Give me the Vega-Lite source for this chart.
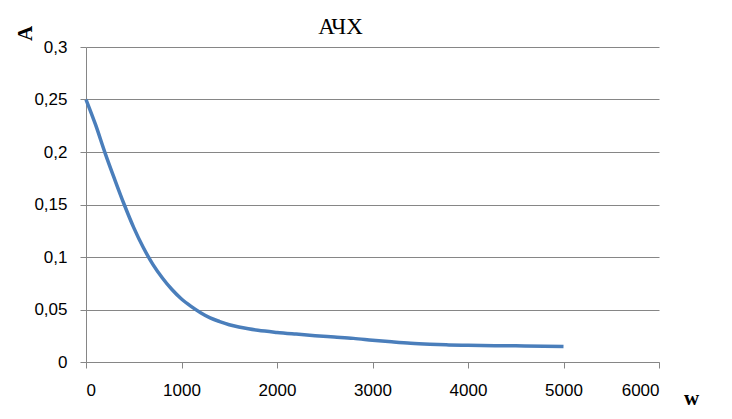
{
  "$schema": "https://vega.github.io/schema/vega-lite/v6.json",
  "width": 573,
  "height": 315,
  "autosize": "none",
  "padding": {"left": 86, "top": 47, "right": 73, "bottom": 57},
  "background": "white",
  "title": {"text": "АЧХ", "font": "Liberation Serif", "fontSize": 23, "fontWeight": "normal", "color": "black", "anchor": "middle", "frame": "group", "dx": -32, "dy": 23, "offset": 9},
  "config": {"view": {"stroke": null}},
  "data": {"values": [
    {"w": 0, "A": 0.25},
    {"w": 100, "A": 0.226},
    {"w": 200, "A": 0.199},
    {"w": 300, "A": 0.174},
    {"w": 400, "A": 0.150},
    {"w": 500, "A": 0.128},
    {"w": 600, "A": 0.109},
    {"w": 700, "A": 0.093},
    {"w": 800, "A": 0.080},
    {"w": 900, "A": 0.069},
    {"w": 1000, "A": 0.060},
    {"w": 1100, "A": 0.053},
    {"w": 1200, "A": 0.047},
    {"w": 1300, "A": 0.042},
    {"w": 1400, "A": 0.0385},
    {"w": 1500, "A": 0.0355},
    {"w": 1600, "A": 0.0333},
    {"w": 1700, "A": 0.0316},
    {"w": 1800, "A": 0.0302},
    {"w": 2000, "A": 0.0282},
    {"w": 2200, "A": 0.0266},
    {"w": 2400, "A": 0.0251},
    {"w": 2600, "A": 0.0238},
    {"w": 2800, "A": 0.0225},
    {"w": 3000, "A": 0.0208},
    {"w": 3200, "A": 0.0192},
    {"w": 3400, "A": 0.0178},
    {"w": 3600, "A": 0.0169},
    {"w": 3800, "A": 0.0163},
    {"w": 4000, "A": 0.0159},
    {"w": 4500, "A": 0.0154},
    {"w": 5000, "A": 0.0147}
  ]},
  "mark": {"type": "line", "color": "#4a7ebb", "strokeWidth": 3.5, "interpolate": "monotone"},
  "encoding": {
    "x": {
      "field": "w", "type": "quantitative",
      "scale": {"domain": [0, 6000], "nice": false, "zero": false},
      "axis": {
        "values": [0, 1000, 2000, 3000, 4000, 5000, 6000],
        "format": "d",
        "grid": false,
        "domainColor": "#868686", "tickColor": "#868686", "tickSize": 6,
        "labelFont": "Liberation Sans", "labelFontSize": 17, "labelColor": "black", "labelPadding": 14,
        "title": "w", "titleFont": "Liberation Serif", "titleFontSize": 21, "titleFontWeight": "bold", "titleColor": "black",
        "titleX": 605, "titleY": 36, "titleAlign": "center", "titleBaseline": "middle", "titleAngle": 0
      }
    },
    "y": {
      "field": "A", "type": "quantitative",
      "scale": {"domain": [0, 0.3], "nice": false},
      "axis": {
        "values": [0, 0.05, 0.1, 0.15, 0.2, 0.25, 0.3],
        "labelExpr": "replace(toString(datum.value), '.', ',')",
        "grid": true, "gridColor": "#868686", "gridWidth": 1,
        "domainColor": "#868686", "tickColor": "#868686", "tickSize": 6,
        "labelFont": "Liberation Sans", "labelFontSize": 17, "labelColor": "black", "labelPadding": 13,
        "title": "A", "titleFont": "Liberation Serif", "titleFontSize": 21, "titleFontWeight": "bold", "titleColor": "black",
        "titleX": -61, "titleY": -14, "titleAlign": "center", "titleBaseline": "middle", "titleAngle": 270
      }
    }
  }
}
